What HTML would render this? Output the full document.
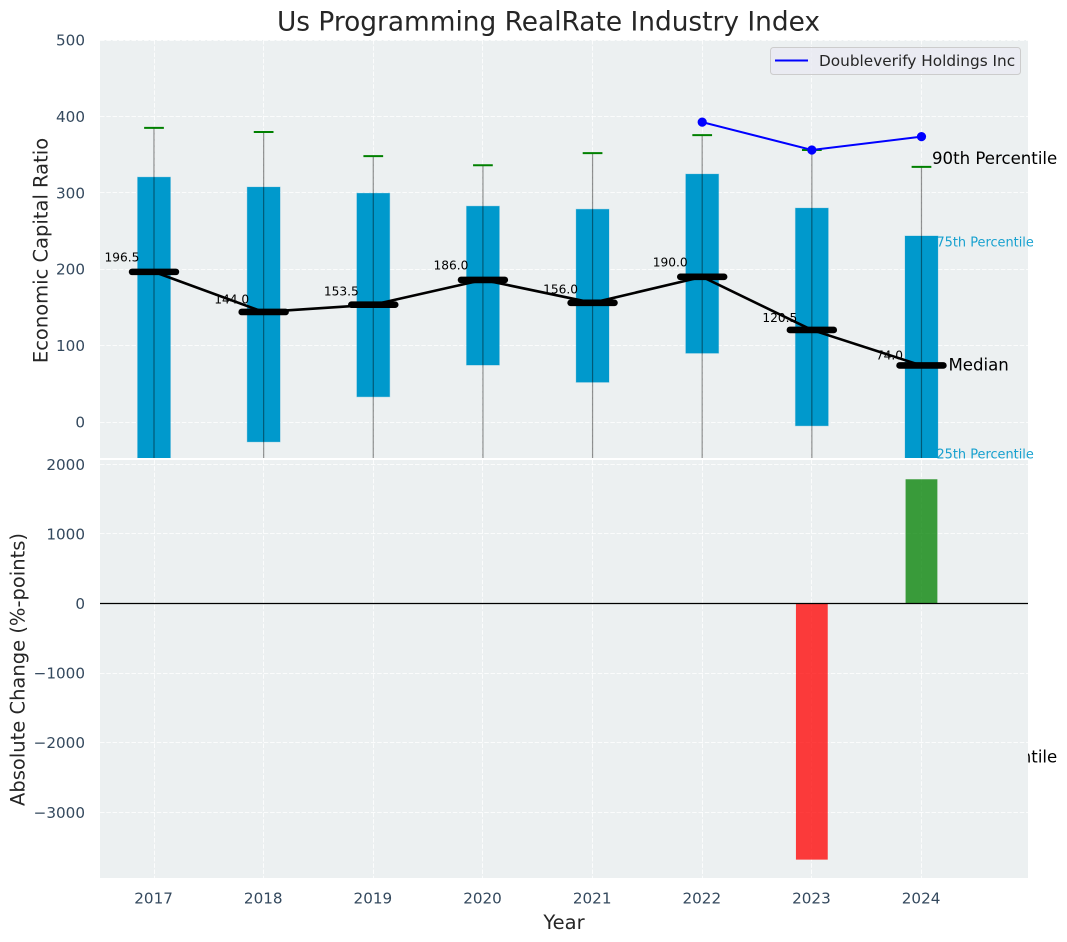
<!DOCTYPE html>
<html>
<head>
<meta charset="utf-8">
<title>Us Programming RealRate Industry Index</title>
<style>
html,body{margin:0;padding:0;background:#fff;}
svg{display:block;font-family:"DejaVu Sans","Liberation Sans",sans-serif;}
</style>
</head>
<body>
<svg id="chart" xmlns="http://www.w3.org/2000/svg" width="1067" height="942" viewBox="0 0 1067 942">
<defs>
<clipPath id="top-clip"><rect x="100" y="40" width="928" height="418"/></clipPath>
<clipPath id="bottom-clip"><rect x="100" y="460" width="928" height="418"/></clipPath>
</defs>
</svg>
<script>
const years = [2017, 2018, 2019, 2020, 2021, 2022, 2023, 2024];
const p90 = [385, 379.5, 348, 336, 352, 375.5, 356, 334];
const p75 = [320.5, 307.5, 299.5, 282.5, 278.5, 324.5, 280, 243.5];
const medians = [196.5, 144.0, 153.5, 186.0, 156.0, 190.0, 120.5, 74.0];
const p25 = [-60, -26, 33, 74.5, 52, 90, -5, -60];
const p10 = [-200, -200, -200, -200, -200, -200, -200, -200];
const companyValues = [null, null, null, null, null, 392.5, 356, 373.5];
const changeValues = [null, null, null, null, null, null, -3680, 1785];
const topTicks = [0, 100, 200, 300, 400, 500];
const bottomTicks = [-3000, -2000, -1000, 0, 1000, 2000];

const svg = document.getElementById('chart');
const NS = 'http://www.w3.org/2000/svg';

function xScale(v) { return 154 + (v - 2017) * 109.64; }
function yTop(v) { return 422 - v * 0.764; }
function yBottom(v) { return 603.5 - v * 0.0696; }
function snap(p) { return Math.floor(p) + 0.5; }

function add(parent, tag, attrs, text) {
  const el = document.createElementNS(NS, tag);
  for (const k in attrs) el.setAttribute(k, attrs[k]);
  if (text !== undefined) el.textContent = text;
  parent.appendChild(el);
  return el;
}
function group(parent, clip) {
  const g = document.createElementNS(NS, 'g');
  if (clip) g.setAttribute('clip-path', 'url(#' + clip + ')');
  parent.appendChild(g);
  return g;
}
function fmt(v) { return String(v).replace('-', '\u2212'); }

/* ---------- title ---------- */
const title = add(svg, 'text', {x: 548.5, y: 30.5, 'text-anchor': 'middle', 'font-size': 26.4, fill: '#262626'}, 'Us Programming RealRate Industry Index');



/* ---------- top panel ---------- */
const topBg = add(svg, 'rect', {x: 100, y: 40, width: 928, height: 418, fill: '#ecf0f1'});



const topPlot = group(svg, 'top-clip');



topTicks.forEach(function (t) {
  const line = add(topPlot, 'line', {x1: 100, x2: 1028, y1: snap(yTop(t)), y2: snap(yTop(t)), stroke: '#fff', 'stroke-width': 1, 'stroke-dasharray': '4.5 1.8', opacity: 0.8});
  
  
  const label = add(svg, 'text', {x: 85, y: yTop(t) + 5.5, 'text-anchor': 'end', 'font-size': 15.2, fill: '#34495e'}, fmt(t));
  
  
});
years.forEach(function (yr) {
  const line = add(topPlot, 'line', {x1: snap(xScale(yr)), x2: snap(xScale(yr)), y1: 40, y2: 458, stroke: '#fff', 'stroke-width': 1, 'stroke-dasharray': '4.5 1.8', opacity: 0.8});
  
  
});

const boxHalf = 0.15;
years.forEach(function (yr, i) {
  const cx = xScale(yr);
  const left = xScale(yr - boxHalf);
  const right = xScale(yr + boxHalf);
  const box = add(topPlot, 'rect', {x: left, y: yTop(p75[i]), width: right - left, height: yTop(p25[i]) - yTop(p75[i]), fill: '#0099cc', stroke: '#0099cc', 'stroke-opacity': 0.25, 'stroke-width': 1});
  
  
  const whisker = add(topPlot, 'line', {x1: cx, x2: cx, y1: yTop(p90[i]), y2: yTop(p10[i]), stroke: '#000', 'stroke-opacity': 0.42, 'stroke-width': 1.2});
  
  
  const cap = add(topPlot, 'line', {x1: xScale(yr - 0.09), x2: xScale(yr + 0.09), y1: yTop(p90[i]), y2: yTop(p90[i]), stroke: '#008000', 'stroke-width': 2});
  
  
});

medians.forEach(function (m, i) {
  const label = add(topPlot, 'text', {x: xScale(years[i]) - 32, y: yTop(m) - (3.4 + 0.0367 * m), 'text-anchor': 'middle', 'font-size': 12.2, fill: '#000'}, m.toFixed(1));
  
  
});

const medianPath = medians.map(function (m, i) { return xScale(years[i]) + ',' + yTop(m); }).join(' ');
const medianLine = add(topPlot, 'polyline', {points: medianPath, fill: 'none', stroke: '#000', 'stroke-width': 2.6, 'stroke-linejoin': 'round'});



medians.forEach(function (m, i) {
  const bar = add(topPlot, 'line', {x1: xScale(years[i] - 0.2), x2: xScale(years[i] + 0.2), y1: yTop(m), y2: yTop(m), stroke: '#000', 'stroke-width': 6.6, 'stroke-linecap': 'round'});
  
  
});

const companyPath = [];
companyValues.forEach(function (v, i) {
  if (v !== null) companyPath.push(xScale(years[i]) + ',' + yTop(v));
});
const companyLine = add(topPlot, 'polyline', {points: companyPath.join(' '), fill: 'none', stroke: '#0000ff', 'stroke-width': 2});


companyValues.forEach(function (v, i) {
  if (v === null) return;
  const dot = add(topPlot, 'circle', {cx: xScale(years[i]), cy: yTop(v), r: 4.6, fill: '#0000ff'});
  
  
});

/* ---------- percentile annotations ---------- */
const lastYear = years[years.length - 1];
const lastMedian = medians[medians.length - 1];
const lastP75 = p75[p75.length - 1];

const label90 = add(svg, 'text', {x: xScale(lastYear) + 10.5, y: 164, 'font-size': 16.6, fill: '#000'}, '90th Percentile');


const label75 = add(svg, 'text', {x: xScale(lastYear) + 15, y: yTop(lastP75) + 10.5, 'font-size': 12.9, fill: '#0099cc', opacity: 0.9}, '75th Percentile');


const labelMed = add(svg, 'text', {x: xScale(lastYear) + 27, y: yTop(lastMedian) + 5, 'font-size': 16.6, fill: '#000'}, 'Median');


const label25 = add(svg, 'text', {x: xScale(lastYear) + 15, y: 458.5, 'font-size': 12.9, fill: '#0099cc', opacity: 0.9}, '25th Percentile');


const label10 = add(svg, 'text', {x: xScale(lastYear) + 10.5, y: 762.5, 'font-size': 16.6, fill: '#000'}, '10th Percentile');



/* ---------- legend ---------- */
const legend = group(svg);


add(legend, 'rect', {x: 770.5, y: 47.5, width: 250, height: 27, rx: 3, fill: '#eaeaf2', 'fill-opacity': 0.8, stroke: '#cccccc'});
add(legend, 'line', {x1: 775, x2: 808, y1: 60.5, y2: 60.5, stroke: '#0000ff', 'stroke-width': 2});
const legendText = add(legend, 'text', {x: 819, y: 66, 'font-size': 15.3, fill: '#262626'}, 'Doubleverify Holdings Inc');



/* ---------- bottom panel ---------- */
const bottomBg = add(svg, 'rect', {x: 100, y: 460, width: 928, height: 418, fill: '#ecf0f1'});



const bottomPlot = group(svg, 'bottom-clip');



bottomTicks.forEach(function (t) {
  const line = add(bottomPlot, 'line', {x1: 100, x2: 1028, y1: snap(yBottom(t)), y2: snap(yBottom(t)), stroke: '#fff', 'stroke-width': 1, 'stroke-dasharray': '4.5 1.8', opacity: 0.8});
  
  
  const label = add(svg, 'text', {x: 85, y: yBottom(t) + 5.5, 'text-anchor': 'end', 'font-size': 15.2, fill: '#34495e'}, fmt(t));
  
  
});
years.forEach(function (yr) {
  const line = add(bottomPlot, 'line', {x1: snap(xScale(yr)), x2: snap(xScale(yr)), y1: 460, y2: 878, stroke: '#fff', 'stroke-width': 1, 'stroke-dasharray': '4.5 1.8', opacity: 0.8});
  
  
  const label = add(svg, 'text', {x: xScale(yr) - 0.4, y: 903.5, 'text-anchor': 'middle', 'font-size': 15.2, fill: '#34495e'}, String(yr));
  
  
});

const barHalf = 0.145;
changeValues.forEach(function (v, i) {
  if (v === null) return;
  const left = xScale(years[i] - barHalf);
  const right = xScale(years[i] + barHalf);
  const top = Math.min(yBottom(v), yBottom(0));
  const h = Math.abs(yBottom(v) - yBottom(0));
  const bar = add(bottomPlot, 'rect', {x: left, y: top, width: right - left, height: h, fill: v < 0 ? '#ff0000' : '#008000', opacity: 0.76});
  
  
});

const zeroLine = add(bottomPlot, 'line', {x1: 100, x2: 1028, y1: yBottom(0), y2: yBottom(0), stroke: '#000', 'stroke-width': 1.3});



/* ---------- axis titles ---------- */
const topTitle = add(svg, 'text', {transform: 'translate(47.5,250.5) rotate(-90)', 'text-anchor': 'middle', 'font-size': 19.5, fill: '#262626'}, 'Economic Capital Ratio');


const bottomTitle = add(svg, 'text', {transform: 'translate(24.5,669.5) rotate(-90)', 'text-anchor': 'middle', 'font-size': 19.5, fill: '#262626'}, 'Absolute Change (%-points)');


const xTitle = add(svg, 'text', {x: 564, y: 929, 'text-anchor': 'middle', 'font-size': 19.5, fill: '#262626'}, 'Year');


</script>
</body>
</html>
